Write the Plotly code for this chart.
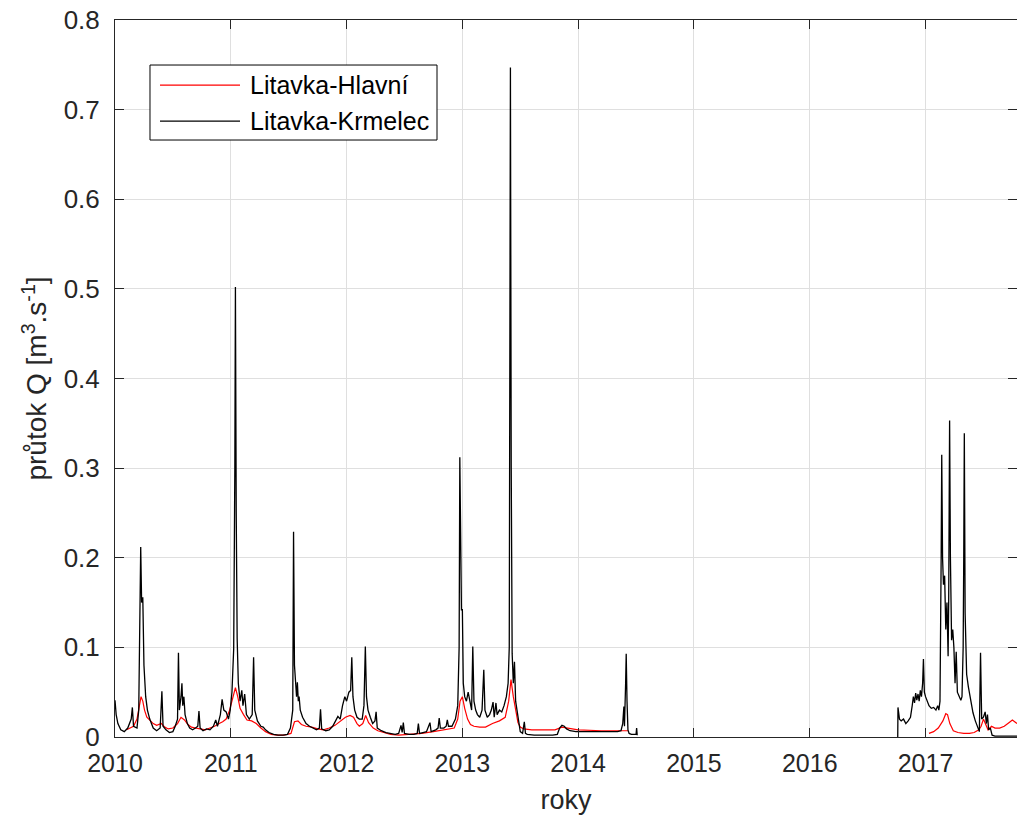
import plotly.graph_objects as go

# ---- data (decimal years, discharge m3/s) ----
krmelec_t = [
    2010.000, 2010.010, 2010.025, 2010.050, 2010.080, 2010.110, 2010.140, 2010.150, 2010.160, 2010.190,
    2010.205, 2010.215, 2010.222, 2010.230, 2010.240, 2010.250, 2010.265, 2010.280, 2010.300, 2010.330,
    2010.360, 2010.390, 2010.405, 2010.415, 2010.440, 2010.470, 2010.500, 2010.520, 2010.540, 2010.548,
    2010.556, 2010.570, 2010.578, 2010.585, 2010.595, 2010.605, 2010.625, 2010.645, 2010.670, 2010.695,
    2010.715, 2010.725, 2010.735, 2010.760, 2010.790, 2010.820, 2010.850, 2010.870, 2010.885, 2010.910,
    2010.925, 2010.940, 2010.960, 2010.980, 2010.995, 2011.010, 2011.025, 2011.035, 2011.040, 2011.047,
    2011.055, 2011.065, 2011.080, 2011.095, 2011.105, 2011.120, 2011.135, 2011.160, 2011.185, 2011.197,
    2011.207, 2011.230, 2011.260, 2011.280, 2011.300, 2011.330, 2011.370, 2011.410, 2011.450, 2011.490,
    2011.515, 2011.535, 2011.542, 2011.550, 2011.560, 2011.568, 2011.575, 2011.583, 2011.590, 2011.600,
    2011.620, 2011.650, 2011.680, 2011.710, 2011.740, 2011.765, 2011.775, 2011.785, 2011.820, 2011.850,
    2011.880, 2011.905, 2011.925, 2011.945, 2011.965, 2011.985, 2012.000, 2012.020, 2012.035, 2012.045,
    2012.055, 2012.070, 2012.090, 2012.110, 2012.135, 2012.150, 2012.162, 2012.172, 2012.185, 2012.205,
    2012.225, 2012.245, 2012.255, 2012.265, 2012.300, 2012.340, 2012.380, 2012.420, 2012.450, 2012.470,
    2012.480, 2012.490, 2012.500, 2012.540, 2012.580, 2012.610, 2012.620, 2012.630, 2012.660, 2012.690,
    2012.720, 2012.730, 2012.770, 2012.790, 2012.800, 2012.810, 2012.840, 2012.860, 2012.870, 2012.880,
    2012.910, 2012.940, 2012.960, 2012.972, 2012.978, 2012.985, 2012.992, 2013.000, 2013.008, 2013.020,
    2013.035, 2013.050, 2013.065, 2013.080, 2013.090, 2013.100, 2013.115, 2013.130, 2013.150, 2013.170,
    2013.185, 2013.195, 2013.215, 2013.235, 2013.250, 2013.265, 2013.275, 2013.290, 2013.300, 2013.320,
    2013.340, 2013.360, 2013.380, 2013.395, 2013.405, 2013.410, 2013.415, 2013.422, 2013.430, 2013.440,
    2013.450, 2013.460, 2013.475, 2013.490, 2013.500, 2013.520, 2013.535, 2013.545, 2013.560, 2013.620,
    2013.700, 2013.780, 2013.820, 2013.840, 2013.860, 2013.880, 2013.900, 2013.930, 2013.980, 2014.050,
    2014.120, 2014.200, 2014.280, 2014.340, 2014.370, 2014.385, 2014.395, 2014.400, 2014.410, 2014.415,
    2014.422, 2014.430, 2014.440, 2014.460, 2014.500, 2014.505, 2014.510,
    None,
    2016.760, 2016.762, 2016.775, 2016.790, 2016.810, 2016.830, 2016.850, 2016.870, 2016.885, 2016.895,
    2016.905, 2016.915, 2016.925, 2016.935, 2016.945, 2016.955, 2016.965, 2016.975, 2016.982, 2016.990,
    2017.000, 2017.015, 2017.030, 2017.050, 2017.070, 2017.090, 2017.105, 2017.115, 2017.125, 2017.135,
    2017.140, 2017.147, 2017.155, 2017.165, 2017.175, 2017.185, 2017.195, 2017.200, 2017.208, 2017.215,
    2017.225, 2017.235, 2017.245, 2017.255, 2017.265, 2017.275, 2017.290, 2017.305, 2017.315, 2017.325,
    2017.330, 2017.335, 2017.342, 2017.355, 2017.370, 2017.390, 2017.410, 2017.430, 2017.450, 2017.465,
    2017.475, 2017.485, 2017.500, 2017.515, 2017.525, 2017.535, 2017.545, 2017.560, 2017.575, 2017.600,
    2017.700, 2017.790,
]
krmelec_q = [
    0.041, 0.025, 0.015, 0.008, 0.006, 0.010, 0.020, 0.033, 0.012, 0.010,
    0.030, 0.120, 0.212, 0.150, 0.156, 0.080, 0.045, 0.030, 0.020, 0.010,
    0.007, 0.010, 0.051, 0.012, 0.008, 0.005, 0.006, 0.012, 0.020, 0.094,
    0.030, 0.045, 0.060, 0.035, 0.045, 0.025, 0.015, 0.010, 0.008, 0.010,
    0.012, 0.029, 0.010, 0.007, 0.009, 0.008, 0.012, 0.019, 0.012, 0.025,
    0.042, 0.030, 0.028, 0.020, 0.030, 0.050, 0.098, 0.300, 0.502, 0.250,
    0.110, 0.060, 0.040, 0.052, 0.035, 0.048, 0.025, 0.020, 0.025, 0.089,
    0.030, 0.018, 0.012, 0.011, 0.008, 0.005, 0.003, 0.002, 0.002, 0.003,
    0.010, 0.030, 0.229, 0.080, 0.063, 0.045, 0.061, 0.040, 0.045, 0.030,
    0.022, 0.015, 0.012, 0.010, 0.008, 0.010, 0.031, 0.009, 0.007, 0.008,
    0.012, 0.018, 0.023, 0.020, 0.035, 0.045, 0.040, 0.050, 0.052, 0.089,
    0.045, 0.030, 0.022, 0.020, 0.020, 0.035, 0.101, 0.045, 0.030, 0.022,
    0.015, 0.018, 0.028, 0.010, 0.007, 0.005, 0.004, 0.003, 0.004, 0.013,
    0.005, 0.016, 0.004, 0.003, 0.003, 0.004, 0.015, 0.004, 0.005, 0.006,
    0.016, 0.006, 0.008, 0.010, 0.021, 0.010, 0.010, 0.012, 0.019, 0.012,
    0.012, 0.020, 0.035, 0.100, 0.312, 0.235, 0.142, 0.142, 0.060, 0.045,
    0.040, 0.050, 0.040, 0.030, 0.101, 0.040, 0.030, 0.025, 0.022, 0.030,
    0.075, 0.030, 0.022, 0.025, 0.030, 0.039, 0.022, 0.038, 0.025, 0.030,
    0.028, 0.035, 0.045, 0.060, 0.100, 0.640, 0.747, 0.300, 0.093, 0.060,
    0.084, 0.040, 0.025, 0.012, 0.006, 0.004, 0.017, 0.004, 0.003, 0.002,
    0.002, 0.002, 0.003, 0.010, 0.013, 0.012, 0.009, 0.007, 0.006, 0.006,
    0.006, 0.006, 0.006, 0.006, 0.007, 0.015, 0.034, 0.012, 0.060, 0.093,
    0.040, 0.008, 0.004, 0.003, 0.003, 0.010, 0.002,
    None,
    0.000, 0.033, 0.020, 0.018, 0.020, 0.015, 0.018, 0.022, 0.035, 0.045,
    0.038, 0.049, 0.041, 0.048, 0.040, 0.052, 0.045, 0.060, 0.087, 0.050,
    0.045, 0.040, 0.035, 0.032, 0.033, 0.030, 0.035, 0.030, 0.040, 0.200,
    0.315, 0.200, 0.170, 0.180, 0.120, 0.150, 0.090, 0.150, 0.353, 0.200,
    0.108, 0.120, 0.100, 0.060, 0.095, 0.050, 0.045, 0.041, 0.045, 0.100,
    0.200, 0.339, 0.138, 0.070, 0.056, 0.040, 0.027, 0.018, 0.010, 0.006,
    0.094, 0.020, 0.022, 0.028, 0.015, 0.025, 0.008, 0.010, 0.002, 0.001,
    0.001, 0.001,
]

hlavni_t = [
    2010.100, 2010.130, 2010.160, 2010.190, 2010.210, 2010.225, 2010.240, 2010.255, 2010.275, 2010.300,
    2010.330, 2010.360, 2010.400, 2010.430, 2010.460, 2010.500, 2010.540, 2010.570, 2010.600, 2010.630,
    2010.660, 2010.700, 2010.740, 2010.780, 2010.820, 2010.860, 2010.900, 2010.930, 2010.960, 2010.990,
    2011.020, 2011.040, 2011.060, 2011.080, 2011.110, 2011.140, 2011.180, 2011.220, 2011.260, 2011.300,
    2011.350, 2011.400, 2011.460, 2011.520, 2011.550, 2011.580, 2011.610, 2011.650, 2011.700, 2011.750,
    2011.800, 2011.850, 2011.900, 2011.950, 2011.990, 2012.030, 2012.060, 2012.090, 2012.110, 2012.140,
    2012.165, 2012.190, 2012.230, 2012.270, 2012.320, 2012.380, 2012.450, 2012.550, 2012.650, 2012.750,
    2012.850, 2012.930, 2012.960, 2012.980, 2013.000, 2013.020, 2013.045, 2013.070, 2013.100, 2013.150,
    2013.200, 2013.260, 2013.320, 2013.370, 2013.400, 2013.420, 2013.440, 2013.460, 2013.480, 2013.500,
    2013.530, 2013.600, 2013.800, 2013.860, 2013.900, 2014.000, 2014.200, 2014.400, 2014.430,
    None,
    2017.030, 2017.070, 2017.110, 2017.150, 2017.175, 2017.190, 2017.210, 2017.240, 2017.280, 2017.330,
    2017.380, 2017.420, 2017.460, 2017.480, 2017.500, 2017.515, 2017.540, 2017.570, 2017.600, 2017.640,
    2017.680, 2017.720, 2017.750, 2017.790,
]
hlavni_q = [
    0.008, 0.010, 0.012, 0.020, 0.035, 0.045, 0.040, 0.030, 0.022, 0.019,
    0.015, 0.013, 0.015, 0.011, 0.009, 0.010, 0.015, 0.022, 0.019, 0.014,
    0.011, 0.010, 0.009, 0.008, 0.010, 0.012, 0.015, 0.017, 0.020, 0.030,
    0.045, 0.055, 0.045, 0.032, 0.025, 0.019, 0.018, 0.015, 0.010, 0.006,
    0.003, 0.002, 0.002, 0.004, 0.017, 0.018, 0.014, 0.012, 0.011, 0.009,
    0.008, 0.010, 0.013, 0.018, 0.022, 0.024, 0.022, 0.015, 0.012, 0.015,
    0.024, 0.016, 0.010, 0.007, 0.005, 0.003, 0.002, 0.003, 0.004, 0.006,
    0.008, 0.010, 0.020, 0.040, 0.045, 0.032, 0.020, 0.014, 0.012, 0.011,
    0.011, 0.015, 0.018, 0.022, 0.040, 0.064, 0.045, 0.028, 0.016, 0.011,
    0.009, 0.008, 0.008, 0.011, 0.010, 0.008, 0.007, 0.007, 0.007,
    None,
    0.004, 0.006, 0.010, 0.018, 0.026, 0.025, 0.015, 0.007, 0.005, 0.004,
    0.004, 0.005, 0.008, 0.012, 0.020, 0.015, 0.008, 0.012, 0.010, 0.010,
    0.012, 0.016, 0.019, 0.015,
]

year_ticks = [2010, 2011, 2012, 2013, 2014, 2015, 2016, 2017]
year_labels = [str(y) for y in year_ticks]
q_ticks = [0, 0.1, 0.2, 0.3, 0.4, 0.5, 0.6, 0.7, 0.8]
q_labels = ["0", "0.1", "0.2", "0.3", "0.4", "0.5", "0.6", "0.7", "0.8"]
series_names = ["Litavka-Hlavní", "Litavka-Krmelec"]
series_colors = ["#ff0000", "#000000"]

FONT = "Liberation Sans, Arial, sans-serif"
AX = "#262626"

fig = go.Figure()
fig.add_trace(go.Scatter(x=hlavni_t, y=hlavni_q, mode="lines", name=series_names[0],
                         line=dict(color=series_colors[0], width=1.2), connectgaps=False,
                         showlegend=False))
fig.add_trace(go.Scatter(x=krmelec_t, y=krmelec_q, mode="lines", name=series_names[1],
                         line=dict(color=series_colors[1], width=1.3), connectgaps=False,
                         showlegend=False))

# ---- MATLAB-style legend box (paper coordinates of the plot area) ----
shapes = [dict(type="rect", xref="paper", yref="paper", x0=0.0388, x1=0.357, y0=0.8326, y1=0.9372,
               line=dict(color="#000000", width=1), fillcolor="white", layer="above")]
annotations = []
leg_y = [0.9093, 0.8591]
for name, col, yy in zip(series_names, series_colors, leg_y):
    shapes.append(dict(type="line", xref="paper", yref="paper", x0=0.0499, x1=0.1386, y0=yy, y1=yy,
                       line=dict(color=col, width=1.2), layer="above"))
    annotations.append(dict(xref="paper", yref="paper", x=0.1475, y=yy, xanchor="left", yanchor="middle",
                            text=name, showarrow=False,
                            font=dict(family=FONT, size=25, color="#000000")))

fig.update_layout(
    width=1017, height=825,
    margin=dict(l=115, r=0, t=20, b=88),
    paper_bgcolor="white", plot_bgcolor="white",
    font=dict(family=FONT, size=25, color=AX),
    showlegend=False,
    shapes=shapes, annotations=annotations,
)
fig.update_xaxes(
    range=[2010, 2017.79], tickmode="array", tickvals=year_ticks, ticktext=year_labels,
    showgrid=True, gridcolor="#dfdfdf", gridwidth=1, zeroline=False,
    showline=True, linecolor=AX, linewidth=1, mirror="ticks",
    ticks="inside", ticklen=9, tickcolor=AX, ticklabelstandoff=4,
    tickfont=dict(size=25, color=AX),
    title=dict(text="roky", font=dict(size=27, color=AX), standoff=14),
)
fig.update_yaxes(
    range=[0, 0.8], tickmode="array", tickvals=q_ticks, ticktext=q_labels,
    showgrid=True, gridcolor="#dfdfdf", gridwidth=1, zeroline=False,
    showline=True, linecolor=AX, linewidth=1, mirror="ticks",
    ticks="inside", ticklen=9, tickcolor=AX, ticklabelstandoff=9,
    tickfont=dict(size=26, color=AX),
    title=dict(text="průtok Q [m<sup>3</sup>.s<sup>-1</sup>]", font=dict(size=28, color=AX), standoff=8),
)

fig.write_html("out.html")
